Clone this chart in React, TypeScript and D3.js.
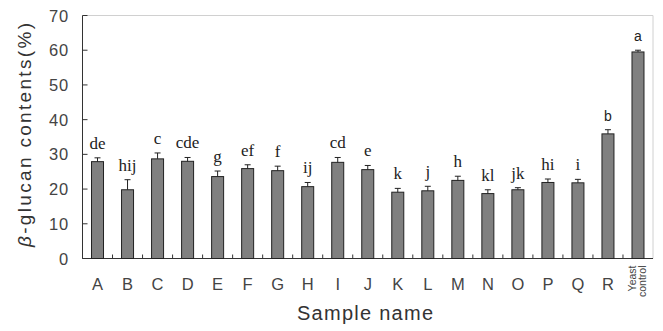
import React from "react";
import * as d3 from "d3";

const categories = ["A","B","C","D","E","F","G","H","I","J","K","L","M","N","O","P","Q","R","Yeast control"];
const values = [27.9,19.8,28.7,28.0,23.6,25.9,25.3,20.7,27.7,25.6,19.1,19.5,22.5,18.7,19.8,21.9,21.8,35.9,59.5];
const errors = [1.1,2.9,1.7,1.1,1.6,1.1,1.3,1.2,1.4,1.2,1.1,1.3,1.2,1.1,0.6,1.0,1.0,1.2,0.5];
const letters = ["de","hij","c","cde","g","ef","f","ij","cd","e","k","j","h","kl","jk","hi","i","b","a"];
const yTicks = [0,10,20,30,40,50,60,70];

export default function App() {
  const W = 663, H = 331;
  const left = 82.5, right = 653, top = 15.5, bottom = 258.5;
  const x = d3.scaleBand<string>().domain(categories).range([left, right]).paddingInner(0).paddingOuter(0);
  const y = d3.scaleLinear().domain([0, 70]).range([bottom, top]);
  const bw = 12;
  const sans = "Arial, 'Liberation Sans', sans-serif";
  const serif = "'Times New Roman', 'Liberation Serif', serif";
  return (
    <svg width={W} height={H} style={{ position: "absolute", left: 0, top: 0, background: "#fff" }}>
      <rect x={0} y={0} width={W} height={H} fill="#fff" />
      {/* frame */}
      <line x1={left} x2={right} y1={top} y2={top} stroke="#d0d0d0" />
      <line x1={right} x2={right} y1={top} y2={bottom} stroke="#d0d0d0" />
      {/* y axis */}
      <line x1={left} x2={left} y1={top} y2={bottom} stroke="#333" />
      {yTicks.map(t => (
        <g key={t}>
          <line x1={left} x2={left + 5} y1={y(t)} y2={y(t)} stroke="#333" />
          <text x={69} y={y(t) + 6} textAnchor="end" fontFamily={sans} fontSize={16.5} letterSpacing={0.8} fill="#444">{t}</text>
        </g>
      ))}
      {/* x axis */}
      <line x1={left} x2={right} y1={bottom} y2={bottom} stroke="#333" />
      {categories.map((c, i) => (
        <line key={"t" + i} x1={(x(c) as number)} x2={(x(c) as number)} y1={bottom} y2={bottom - 4} stroke="#333" />
      ))}
      {/* bars */}
      {categories.map((c, i) => {
        const cx = (x(c) as number) + x.bandwidth() / 2;
        const yt = y(values[i]);
        const ye = y(values[i] + errors[i]);
        return (
          <g key={c}>
            <rect x={cx - bw / 2} y={yt} width={bw} height={bottom - yt} fill="#808080" stroke="#222" strokeWidth={1} />
            <line x1={cx} x2={cx} y1={yt} y2={ye} stroke="#222" />
            <line x1={cx - 3} x2={cx + 3} y1={ye} y2={ye} stroke="#222" />
            <text x={cx} y={ye - 9} textAnchor="middle" fontFamily={i >= 17 ? sans : serif} fontSize={i >= 17 ? 14 : 17} fill="#222">{letters[i]}</text>
            {c === "Yeast control" ? (
              <text transform={`translate(${cx},${bottom + 7}) rotate(-90)`} textAnchor="end" fontFamily={sans} fontSize={10.5} fill="#444">
                <tspan x={0} dy={-2}>Yeast</tspan>
                <tspan x={0} dy={10.5}>control</tspan>
              </text>
            ) : (
              <text x={cx} y={290} textAnchor="middle" fontFamily={sans} fontSize={16.5} fill="#444">{c}</text>
            )}
          </g>
        );
      })}
      {/* axis titles */}
      <text x={365} y={320} textAnchor="middle" fontFamily={sans} fontSize={20} textLength={136} lengthAdjust="spacing" fill="#333">Sample name</text>
      <text transform={`translate(31,135) rotate(-90)`} textAnchor="middle" fontFamily={sans} fontSize={19} textLength={224} lengthAdjust="spacing" fill="#333">
        <tspan fontStyle="italic">β</tspan>-glucan contents(%)
      </text>
    </svg>
  );
}
